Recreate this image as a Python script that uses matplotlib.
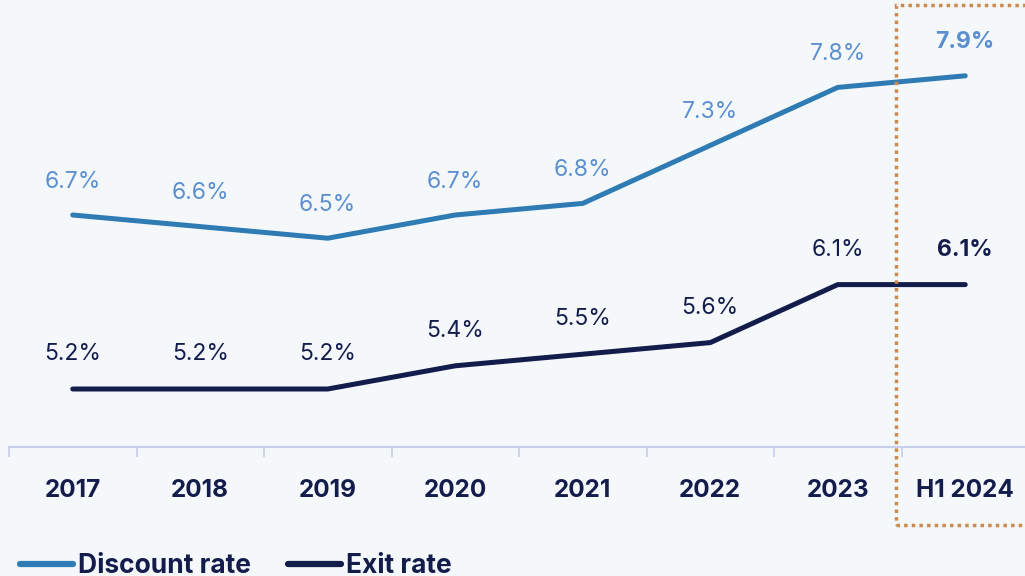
"""
Discount rate vs exit rate, 2017 - H1 2024.
"""

import matplotlib
matplotlib.use('Agg')
import matplotlib.pyplot as plt
from matplotlib.patches import Rectangle
from matplotlib.lines import Line2D

# data
categories = ['2017', '2018', '2019', '2020', '2021', '2022', '2023', 'H1 2024']
discount_rate = [6.7, 6.6, 6.5, 6.7, 6.8, 7.3, 7.8, 7.9]
exit_rate = [5.2, 5.2, 5.2, 5.4, 5.5, 5.6, 6.1, 6.1]

BG = '#f4f8fb'
DISC_LINE = '#2f7bb3'
DISC_TEXT = '#5b8fd0'
NAVY = '#141c4c'
AXIS = '#c9cdee'
BOX = '#c98a4b'

plt.rcParams['font.family'] = ['Inter', 'DejaVu Sans']

W, H = 1025, 576
fig = plt.figure(figsize=(W / 100, H / 100), dpi=100)
fig.patch.set_facecolor(BG)

# axes: x from px 9 to 1029, y from px 447 (bottom) to 0 (top)
ax = fig.add_axes([9 / W, (H - 447) / H, 1020 / W, 447 / H])
ax.set_facecolor(BG)
x = list(range(len(categories)))
ax.set_xlim(-0.5, len(categories) - 0.5)
ax.set_ylim(4.7, 4.7 + 447 / 116)

ax.plot(x, discount_rate, color=DISC_LINE, lw=3.6, solid_capstyle='round', zorder=3)
ax.plot(x, exit_rate, color=NAVY, lw=3.6, solid_capstyle='round', zorder=3)

last = len(categories) - 1
for i, v in enumerate(discount_rate):
    ax.annotate(f'{v}%', (i, v), xytext=(0, 24), textcoords='offset points',
                ha='center', va='center', fontsize=16.5, color=DISC_TEXT,
                fontweight='bold' if i == last else 'normal')
for i, v in enumerate(exit_rate):
    ax.annotate(f'{v}%', (i, v), xytext=(0, 25), textcoords='offset points',
                ha='center', va='center', fontsize=16.5, color=NAVY,
                fontweight='bold' if i == last else 'normal')

# axis styling
for s in ['top', 'right', 'left']:
    ax.spines[s].set_visible(False)
ax.spines['bottom'].set_color(AXIS)
ax.spines['bottom'].set_linewidth(1.5)
ax.set_yticks([])
ax.set_xticks([i - 0.5 for i in range(len(categories) + 1)])
ax.set_xticklabels([])
ax.tick_params(axis='x', length=7, width=1.2, color=AXIS)
ax.set_xticks(x, minor=True)
ax.set_xticklabels(categories, minor=True, fontsize=17.5, fontweight='bold', color=NAVY)
ax.tick_params(axis='x', which='minor', length=0, pad=23)

# highlight box around H1 2024
box = Rectangle((896 / W, (H - 525) / H), 140 / W, 520 / H, transform=fig.transFigure,
                fill=False, edgecolor=BOX, lw=2.5, linestyle=(0, (1, 1.2)), clip_on=False)
fig.add_artist(box)

# legend
handles = [Line2D([], [], color=DISC_LINE, lw=4.5, solid_capstyle='round'),
           Line2D([], [], color=NAVY, lw=4.5, solid_capstyle='round')]
leg = fig.legend(handles, ['Discount rate', 'Exit rate'], loc='center left',
                 bbox_to_anchor=(20 / W, (H - 566) / H), ncol=2, frameon=False,
                 borderpad=0, borderaxespad=0,
                 handlelength=2.0, handletextpad=0.2, columnspacing=1.4,
                 prop={'size': 19, 'weight': 'bold'})
for t in leg.get_texts():
    t.set_color(NAVY)

fig.savefig('out.png', dpi=100, facecolor=BG)
